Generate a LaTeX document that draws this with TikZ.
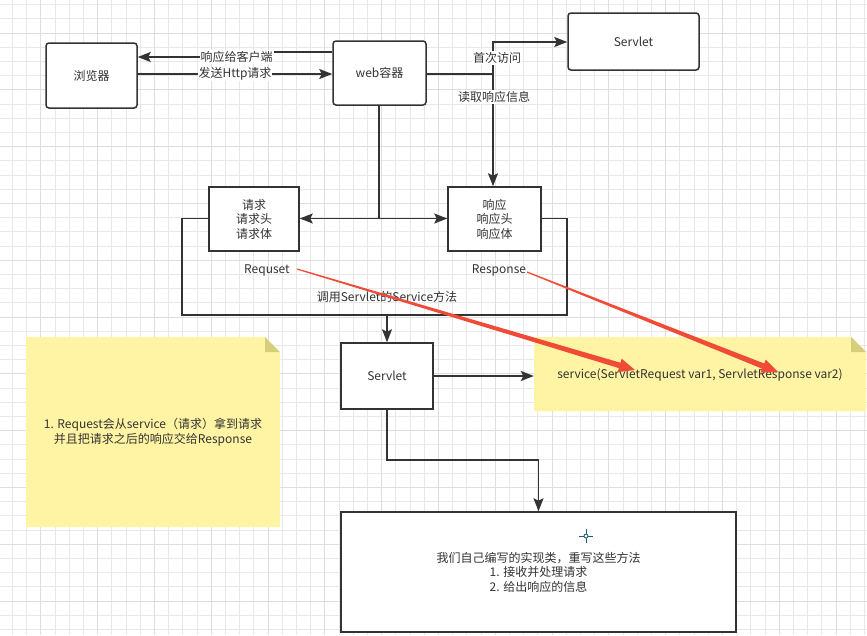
\documentclass[tikz,border=0pt]{standalone}
\usepackage{fontspec}
\setmainfont{Noto Sans CJK SC}
\usetikzlibrary{arrows.meta,calc}

\definecolor{ink}{RGB}{51,51,51}
\definecolor{gridminor}{RGB}{232,232,232}
\definecolor{gridmajor}{RGB}{222,222,222}
\definecolor{notefill}{RGB}{255,244,163}
\definecolor{notefold}{RGB}{214,206,122}
\definecolor{redarrow}{RGB}{240,75,55}
\definecolor{crossc}{RGB}{30,90,115}

\newcommand\myredarrow[2]{%
  \coordinate (rbase) at ($(#2)!16pt!(#1)$);
  \fill[redarrow] ($(#1)!0.6pt!90:(#2)$) -- ($(rbase)!2.8pt!90:(#2)$) -- ($(rbase)!7pt!90:(#2)$) -- (#2)
     -- ($(rbase)!7pt!-90:(#2)$) -- ($(rbase)!2.8pt!-90:(#2)$) -- ($(#1)!0.6pt!-90:(#2)$) -- cycle;
}

\begin{document}
\begin{tikzpicture}[x=1pt,y=-1pt,
  every node/.style={font=\fontsize{12}{14.5}\selectfont, text=ink},
  rbox/.style={draw=ink, line width=1.5pt, fill=white, rounded corners=3pt, inner sep=0pt, align=center},
  sbox/.style={draw=ink, line width=1.5pt, fill=white, inner sep=0pt, align=center},
  conn/.style={draw=ink, line width=1.4pt},
  arr/.style={conn, -{Stealth[length=13pt,width=10pt,inset=2.5pt]}},
  lbl/.style={fill=white, inner sep=1pt},
  plain/.style={inner sep=1pt, align=center},
  minorline/.style={gridminor, line width=1pt},
  majorline/.style={gridmajor, line width=1pt},
]
\fill[white] (0,0) rectangle (867,635);
\useasboundingbox (0,0) rectangle (867,635);

% grid
\begin{scope}
\clip (0,0) rectangle (867,635);
\foreach \i in {0,...,61} \draw[minorline] ({12.5+14.2*\i},0) -- ({12.5+14.2*\i},635);
\foreach \j in {0,...,44} \draw[minorline] (0,{4.7+14.2*\j}) -- (867,{4.7+14.2*\j});
\foreach \i in {0,...,15} \draw[majorline] ({40.9+56.8*\i},0) -- ({40.9+56.8*\i},635);
\foreach \j in {0,...,11} \draw[majorline] (0,{33.1+56.8*\j}) -- (867,{33.1+56.8*\j});
\end{scope}

% notes
\fill[notefill] (26,337) -- (265,337) -- (280,352) -- (280,527) -- (26,527) -- cycle;
\fill[notefold] (265,337) -- (280,352) -- (265,352) -- cycle;
\node[plain, minimum width=254pt, minimum height=190pt] (noteL) at (153,432)
  {1. Request会从service（请求）拿到请求\\并且把请求之后的响应交给Response};

\fill[notefill] (534,337) -- (851,337) -- (866,352) -- (866,411) -- (534,411) -- cycle;
\fill[notefold] (851,337) -- (866,352) -- (851,352) -- cycle;
\node[plain, minimum width=332pt, minimum height=74pt] (noteR) at (700,375)
  {service(ServletRequest var1, ServletResponse var2)};

% boxes
\node[rbox, minimum width=91pt, minimum height=65pt] (browser) at (91.5,75.5) {浏览器};
\node[rbox, minimum width=93pt, minimum height=64pt] (web) at (379.5,73) {web容器};
\node[rbox, minimum width=131pt, minimum height=57pt] (servletTop) at (633.5,41.5) {Servlet};
\node[sbox, minimum width=90pt, minimum height=64pt] (req) at (254,219) {请求\\请求头\\请求体};
\node[sbox, minimum width=93pt, minimum height=64pt] (resp) at (494.5,219) {响应\\响应头\\响应体};
\node[sbox, minimum width=92pt, minimum height=66pt] (servletMid) at (387,376) {Servlet};
\node[sbox, minimum width=395pt, minimum height=120pt] (impl) at (538.5,572)
  {我们自己编写的实现类，重写这些方法\\1. 接收并处理请求\\2. 给出响应的信息};

% browser <-> web
\draw[arr] (web.west |- 0,52) -- (236,52) -- (236,57) -- (browser.east |- 0,57);
\node[lbl] (lblBack) at (236.5,57) {响应给客户端};
\draw[arr] (browser.east |- 0,74) -- (web.west |- 0,74);
\node[lbl] (lblSend) at (235,74) {发送Http请求};

% web -> servlet / response
\coordinate (jn) at (493,74);
\draw[conn] (web.east |- jn) -- (jn);
\draw[arr] (jn) -- (493,42) -- (servletTop.west |- 0,42);
\draw[arr] (jn) -- (jn |- resp.north);
\node[lbl] (lblFirst) at (497,58) {首次访问};
\node[lbl] (lblRead) at (494,97) {读取响应信息};

% web down to request/response
\coordinate (jtop) at (379,105);
\coordinate (jd) at (379,218.5);
\draw[conn] (jtop) -- (jd);
\draw[arr] (jd) -- (req.east |- jd);
\draw[arr] (jd) -- (resp.west |- jd);

% outer loop
\draw[conn] (req.west |- jd) -- (182,218.5) -- (182,315) -- (567,315) -- (567,218.5) -- (resp.east |- jd);
\coordinate (od) at (387,315);
\draw[arr] (od) -- (servletMid.north);

\node[plain] (lblReq) at (267,270) {Requset};
\node[plain] (lblResp) at (499,270) {Response};
\node[plain] (lblCall) at (387,297) {调用Servlet的Service方法};

% servlet mid connectors
\draw[arr] (servletMid.east) -- (servletMid.east -| noteR.west);
\coordinate (sb) at (387,460);
\draw[arr] (servletMid.south) -- (sb) -- (sb -| impl.north) -- (impl.north);

% crosshair icon
\draw[crossc, line width=0.8pt] (586,536) circle (2);
\draw[crossc, line width=0.8pt] (579,536) -- (584,536) (588,536) -- (593,536) (586,529) -- (586,534) (586,538) -- (586,543);

% red arrows
\coordinate (rs1) at (297,269);
\coordinate (rt1) at (635,370);
\coordinate (rs2) at (527,272);
\coordinate (rt2) at (778,372);
\myredarrow{rs1}{rt1}
\myredarrow{rs2}{rt2}
\end{tikzpicture}
\end{document}
